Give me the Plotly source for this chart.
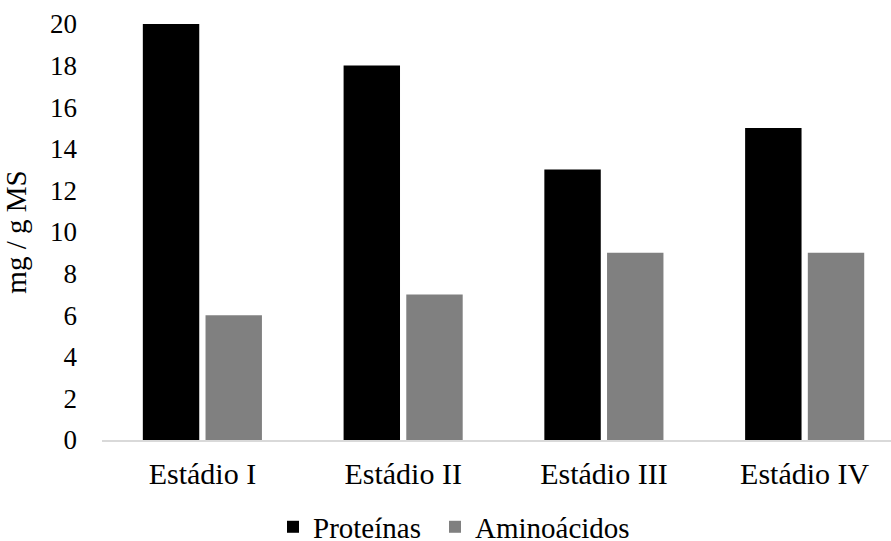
import plotly.graph_objects as go

categorias = ["Estádio I", "Estádio II", "Estádio III", "Estádio IV"]
proteinas = [20, 18, 13, 15]
aminoacidos = [6, 7, 9, 9]
y_ticks = [0, 2, 4, 6, 8, 10, 12, 14, 16, 18, 20]

FONT = "Times New Roman, Liberation Serif, serif"
W, H = 891, 541

fig = go.Figure()
fig.add_trace(go.Bar(name="Proteínas", x=categorias, y=proteinas, legend="legend",
                     marker=dict(color="#000000", line=dict(width=0))))
fig.add_trace(go.Bar(name="Aminoácidos", x=categorias, y=aminoacidos, legend="legend2",
                     marker=dict(color="#808080", line=dict(width=0))))

leg_common = dict(orientation="h", xref="container", yref="container",
                  xanchor="left", y=0.026, yanchor="middle",
                  font=dict(size=29, family=FONT, color="#000000"), itemwidth=30,
                  bgcolor="rgba(0,0,0,0)")

fig.update_layout(
    width=W, height=H,
    margin=dict(l=102, r=0, t=24, b=101),
    plot_bgcolor="white", paper_bgcolor="white",
    barmode="group", bargap=0.3755, bargroupgap=0.10,
    font=dict(family=FONT, size=27, color="#000000"),
    showlegend=True,
    legend=dict(x=273 / W, **leg_common),
    legend2=dict(x=435 / W, **leg_common),
    xaxis=dict(type="category", range=[-0.5, 3.43], showgrid=False,
               showline=True, linecolor="#d9d9d9", linewidth=2,
               ticks="", tickfont=dict(size=30, family=FONT, color="#000000"),
               ticklabelstandoff=6, zeroline=False),
    yaxis=dict(range=[0, 20], tickvals=y_ticks, showgrid=False,
               showline=False, zeroline=False, ticks="",
               tickfont=dict(size=27, family=FONT, color="#000000"),
               ticklabelstandoff=24,
               title=dict(text="mg / g MS", font=dict(size=29, family=FONT, color="#000000"),
                          standoff=14)),
)

fig.write_html("out.html")
